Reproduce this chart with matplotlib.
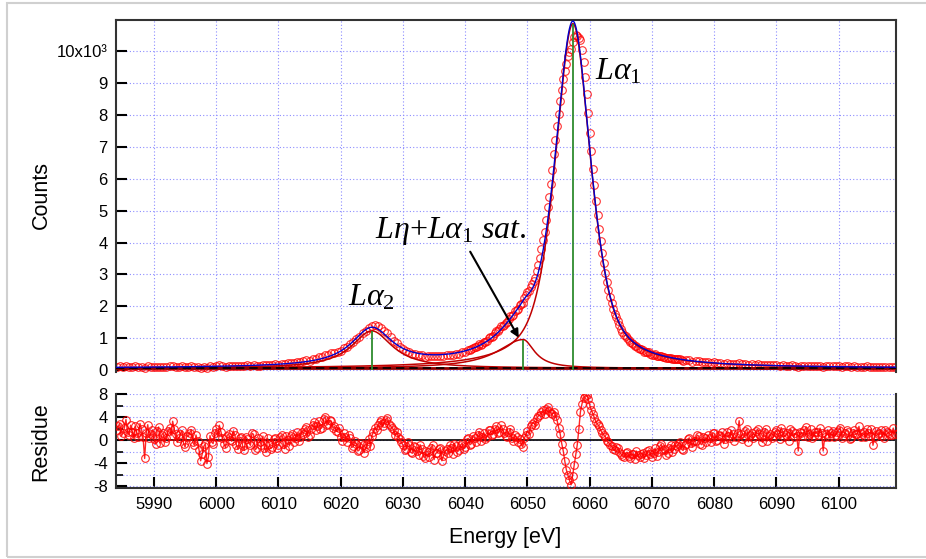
import numpy as np
import matplotlib
matplotlib.use("Agg")
import matplotlib.pyplot as plt
from matplotlib.patches import Rectangle
from matplotlib.ticker import MultipleLocator, FuncFormatter

plt.rcParams["font.family"] = ["Liberation Sans", "DejaVu Sans"]
plt.rcParams["mathtext.fontset"] = "custom"
plt.rcParams["mathtext.rm"] = "Liberation Serif"
plt.rcParams["mathtext.it"] = "Liberation Serif:italic"
plt.rcParams["axes.unicode_minus"] = False

# -------------------------
# Datos medidos (leidos de la figura)
# -------------------------

energy_low = np.arange(5984, 6040.5, 1.0)
counts_low = [
    114, 110, 108, 124, 121, 131, 107, 101, 112, 145,
    115, 102, 136, 117, 110, 134, 150, 137, 149, 152,
    152, 154, 154, 138, 158, 167, 183, 185, 234, 263,
    281, 307, 359, 413, 489, 559, 621, 729, 876, 1046,
    1228, 1380, 1383, 1235, 1034, 844, 665, 586, 522, 481,
    451, 440, 463, 470, 475, 523, 583,
]
energy_low_b = np.arange(5984.5, 6040, 1.0)
counts_low_b = [
    126, 134, 115, 107, 70, 115, 122, 121, 131, 122,
    131, 122, 108, 81, 78, 120, 160, 119, 136, 124,
    127, 144, 144, 178, 170, 193, 213, 216, 225, 262,
    315, 355, 411, 480, 536, 588, 701, 831, 987, 1165,
    1336, 1413, 1341, 1170, 929, 746, 603, 521, 471, 434,
    460, 440, 438, 497, 521, 576,
]

energy_mid = np.arange(6040.5, 6075.25, 0.5)
counts_mid = [
    649, 659, 722, 777, 795, 891, 932, 1033, 1091, 1220,
    1285, 1401, 1472, 1615, 1697, 1852, 1933, 2062, 2263, 2438,
    2601, 2805, 3110, 3520, 4069, 4715, 5430, 6262, 7192, 8020,
    8761, 9362, 9821, 10046, 10431, 10451, 10335, 9652, 8653, 7437,
    6312, 5296, 4437, 3678, 3058, 2527, 2106, 1764, 1536, 1295,
    1120, 1020, 881, 817, 762, 670, 638, 581, 563, 497,
    499, 456, 458, 416, 377, 385, 353, 345, 345, 302,
]
energy_mid_b = np.arange(6040.75, 6075, 0.5)
counts_mid_b = [
    637, 713, 723, 818, 840, 889, 1001, 1046, 1162, 1225,
    1374, 1434, 1523, 1702, 1741, 1904, 2031, 2114, 2348, 2469,
    2702, 2905, 3311, 3790, 4332, 5100, 5836, 6756, 7630, 8425,
    9102, 9587, 9961, 10279, 10481, 10407, 10021, 9163, 8056, 6860,
    5794, 4856, 4037, 3357, 2775, 2306, 1924, 1660, 1406, 1199,
    1075, 946, 859, 757, 710, 659, 591, 578, 527, 497,
    455, 463, 422, 382, 388, 352, 360, 345, 313,
]

energy_high = np.arange(6076, 6109.5, 1.0)
counts_high = [
    316, 283, 253, 263, 252, 233, 231, 214, 236, 202,
    190, 191, 178, 168, 171, 163, 139, 150, 147, 136,
    135, 146, 131, 135, 135, 126, 115, 121, 122, 113,
    121, 111, 114, 111,
]
energy_high_b = np.arange(6075.5, 6109, 1.0)
counts_high_b = [
    311, 276, 287, 262, 235, 229, 206, 209, 202, 187,
    173, 180, 169, 155, 160, 149, 153, 157, 112, 150,
    149, 140, 101, 125, 126, 118, 128, 128, 115, 126,
    96, 116, 120, 110,
]

energy_res = np.arange(5984, 6109.25, 0.5)
residue = [
    1.8, 2.9, 1.2, 3.6, 0.9, 1.5, 2.4, 0.6, 1.9, -3.2,
    2.7, 1.1, 0.2, 1.6, -0.5, 1.3, 0.4, 2.1, 3.3, 1.0,
    0.3, 1.7, -1.2, 0.6, 1.8, -0.9, -0.2, -3.6, -1.1, -4.1,
    0.8, -0.6, 1.9, 2.6, 0.4, -1.3, 1.1, -0.2, 0.9, -1.6,
    0.5, -1.8, 0.2, -0.9, 1.0, -1.4, -0.3, 0.7, -2.1, -0.6,
    -1.2, 0.3, -0.8, 0.9, -1.5, 0.1, 0.8, -0.4, 1.4, 0.6,
    1.1, 2.3, 0.9, 2.7, 1.8, 3.4, 2.2, 4.1, 2.9, 3.3,
    2.4, 1.5, 0.6, 1.2, -0.4, 0.3, -1.1, -0.6, -1.7, -0.9,
    -1.3, 0.2, 0.8, 2.1, 2.6, 3.5, 3.0, 3.9, 2.5, 1.8,
    1.4, 0.2, -0.9, -1.6, -0.8, -2.3, -1.2, -2.6, -1.5, -3.1,
    -2.0, -1.4, -3.4, -2.2, -1.3, -2.7, -1.6, -0.9, -2.4, -1.1,
    -1.8, -0.5, -1.2, 0.3, -0.6, 0.4, 0.9, -0.2, 1.3, 0.6,
    1.7, 1.1, 2.4, 1.5, 1.9, 0.8, 1.4, 0.3, 0.9, -0.4,
    -0.7, 0.4, 1.6, 2.5, 3.1, 3.8, 4.4, 5.2, 5.5, 5.0,
    4.6, 4.3, 2.2, -0.6, -3.7, -6.1, -7.8, -4.4, -0.8, 4.9,
    7.4, 7.9, 6.1, 4.6, 3.2, 2.4, 1.3, 0.6, -0.4, -1.1,
    -1.8, -1.3, -2.4, -2.9, -2.1, -3.2, -2.5, -1.9, -3.0, -2.2,
    -2.6, -1.7, -2.9, -1.4, -2.0, -0.7, -1.5, -2.3, -0.9, -1.6,
    -1.1, -0.3, -1.8, -0.6, 0.4, -1.2, -0.2, 0.7, -0.8, 0.3,
    0.9, -0.4, 1.2, 0.1, 0.8, -0.6, 1.5, 0.4, 1.1, 0.6,
    3.4, 0.2, 1.6, -0.3, 1.3, 0.8, 1.9, 0.5, 1.4, -0.2,
    1.1, 0.7, 1.8, 0.2, 1.5, 0.9, -0.1, 1.6, 1.2, -1.9,
    1.3, 1.7, 0.6, 1.9, 0.8, 1.4, 2.1, -1.9, 1.0, 0.5,
    1.6, 0.9, 1.8, 0.3, 1.2, 1.5, 0.4, 1.7, 1.1, 0.6,
    1.4, 1.9, 0.7, -0.9, 1.6, 1.2, 0.8, 1.8, 1.3, 0.9,
    1.1,
]
energy_res_b = np.arange(5984.25, 6109, 0.5)
residue_b = [
    2.4, 0.7, 2.2, 1.4, 2.6, 0.3, 1.3, 2.9, 0.5, 1.2,
    0.4, 1.8, -0.7, 2.3, 0.9, -0.3, 1.6, 0.8, 1.9, -0.4,
    1.1, -0.6, 0.8, 1.3, -0.4, 0.9, -1.8, -2.4, -0.6, -2.9,
    -0.3, 1.2, 0.6, 1.5, -0.7, 0.8, 0.1, 1.6, -0.9, 0.4,
    -1.1, 0.6, -0.5, 1.2, -1.7, 0.4, -0.9, -1.3, 0.3, -1.5,
    0.2, -1.3, 0.5, -0.6, 0.7, -1.0, 1.1, 0.3, -0.2, 1.5,
    2.0, 0.6, 1.9, 3.1, 2.5, 2.0, 3.7, 2.6, 3.5, 2.1,
    1.6, 2.2, -0.1, 0.5, 0.9, -1.3, -0.2, -1.9, -0.5, -2.2,
    -0.6, -1.0, 1.4, 1.7, 3.1, 2.4, 3.6, 2.8, 2.1, 0.9,
    0.6, -0.4, -1.8, -0.3, -2.1, -1.0, -1.9, -0.8, -2.7, -1.9,
    -2.9, -0.8, -2.3, -1.5, -3.6, -1.9, -2.2, -1.4, -0.6, -2.0,
    -0.9, -1.5, 0.2, -0.8, 0.8, -0.3, 1.5, 0.5, 0.2, 1.8,
    0.9, 2.0, 1.2, 2.6, 1.3, 0.6, 2.0, -0.2, 0.5, 0.2,
    -1.2, 0.9, 1.1, 2.9, 2.6, 4.2, 4.9, 4.6, 5.8, 4.8,
    4.9, 3.5, 1.1, -1.9, -5.2, -7.0, -6.2, -2.5, 1.9, 6.3,
    7.7, 7.2, 5.3, 3.9, 2.8, 1.7, 0.9, -0.1, -0.8, -1.6,
    -1.2, -2.0, -2.8, -2.3, -2.7, -2.5, -3.3, -2.6, -2.4, -3.1,
    -1.9, -2.4, -2.2, -2.7, -1.1, -1.8, -2.6, -1.3, -2.1, -0.8,
    -0.7, -1.6, -0.9, 0.2, -0.5, -0.1, 0.9, -0.6, 0.5, -0.3,
    0.4, 1.3, -0.2, 0.9, 1.4, 0.2, 0.8, 1.7, -0.1, 1.2,
    1.0, 0.6, 1.9, 0.9, 0.3, 1.6, 1.1, -0.4, 2.0, 0.7,
    0.3, 1.5, 1.0, 2.2, 0.6, 1.3, 1.9, 0.5, 0.8, 1.4,
    0.7, 2.3, 1.0, 0.4, 1.5, 0.9, 1.2, 0.6, 1.8, 1.3,
    0.5, 1.4, 2.2, 0.8, 1.7, 0.2, 1.3, 1.0, 2.4, 1.1,
    0.6, 1.3, 2.0, 0.5, 1.0, 1.7, 0.3, 1.5, 0.9, 2.1,
]

# -------------------------
# Parametros del ajuste (La2, Ln+La1 sat., La1)
# -------------------------

peak_center = [6025.0, 6049.3, 6057.3]
peak_height = [1170, 900, 10780]
peak_hw_left = [4.0, 5.0, 3.45]
peak_hw_right = [4.0, 2.2, 3.45]
peak_eta = [1.0, 1.0, 0.65]
baseline = 65

x_range = (5983.9, 6109.2)


def peak_shape(x, center, height, hw_left, hw_right, eta):
    hw = np.where(x < center, hw_left, hw_right)
    u = ((x - center) / hw) ** 2
    return height * (eta / (1 + u) + (1 - eta) * np.exp(-np.log(2) * u))


def merge_sorted(xs, ys):
    x = np.concatenate(xs)
    y = np.concatenate([np.asarray(v, dtype=float) for v in ys])
    order = np.argsort(x)
    return x[order], y[order]


energy, counts = merge_sorted(
    [energy_low, energy_low_b, energy_mid, energy_mid_b, energy_high, energy_high_b],
    [counts_low, counts_low_b, counts_mid, counts_mid_b, counts_high, counts_high_b],
)
e_res, res = merge_sorted([energy_res, energy_res_b], [residue, residue_b])

e_fine = np.linspace(x_range[0], x_range[1], 3000)
components = [
    peak_shape(e_fine, c, h, wl, wr, et)
    for c, h, wl, wr, et in zip(peak_center, peak_height, peak_hw_left, peak_hw_right, peak_eta)
]
total_fit = baseline + np.sum(components, axis=0)

# -------------------------
# Figura
# -------------------------

W, H = 926, 559
fig = plt.figure(figsize=(W / 100, H / 100), dpi=100)
ax1 = fig.add_axes([116 / W, (H - 372) / H, 780 / W, 352 / H])
ax2 = fig.add_axes([116 / W, (H - 487.7) / H, 780 / W, 93.4 / H])

grid_kw = dict(color="#8c8cff", linestyle=(0, (1, 2)), linewidth=0.8)
spine_color = "#333333"

# panel superior
ax1.plot(energy, counts, "o", mfc="none", mec="red", ms=5.5, mew=0.8, alpha=0.8, zorder=2)
for comp in components:
    ax1.plot(e_fine, baseline + comp, color="#c00000", lw=1.1, zorder=3)
ax1.axhline(baseline, color="#8b0000", lw=2, zorder=3)
ax1.axhline(baseline, color="black", lw=1.2, ls=(0, (5, 3)), zorder=4)
ax1.vlines(peak_center, 0, baseline + np.array(peak_height), color="#2e8b2e", lw=1.3, zorder=4)
ax1.plot(e_fine, total_fit, color="#0000cc", lw=1, zorder=5)

ax1.set_xlim(*x_range)
ax1.set_ylim(-50, 10960)
ax1.xaxis.set_major_locator(MultipleLocator(10))
ax1.yaxis.set_major_locator(MultipleLocator(1000))
ax1.yaxis.set_major_formatter(
    FuncFormatter(lambda v, p: "10x10\u00b3" if round(v) == 10000 else f"{v / 1000:.0f}")
)
ax1.tick_params(axis="x", length=0, labelbottom=False)
ax1.tick_params(axis="y", direction="in", length=8, width=1.5, labelsize=12, pad=6)
ax1.grid(True, **grid_kw)
ax1.set_axisbelow(True)
ax1.spines["bottom"].set_visible(False)
for s in ["left", "top", "right"]:
    ax1.spines[s].set_color(spine_color)
    ax1.spines[s].set_linewidth(1.5)

ax1.text(6060.9, 9100, r"$L\alpha_1$", fontsize=23)
ax1.text(6021.2, 2025, r"$L\alpha_2$", fontsize=23)
ax1.text(6025.5, 4141, r"$L\eta{+}L\alpha_1\ sat.$", fontsize=23)
ax1.annotate("", xy=(6048.6, 1023), xytext=(6040.8, 3713),
             arrowprops=dict(arrowstyle="-|>", color="black", lw=1.5, mutation_scale=12,
                             shrinkA=0, shrinkB=0))

# panel de residuos
ax2.plot(e_res, res, "-o", color="red", lw=1, ms=5.5, mfc="none", mew=0.8, alpha=0.85, zorder=3)
ax2.axhline(0, color="black", lw=1.2, zorder=2)
ax2.set_xlim(*x_range)
ax2.set_ylim(-8.3, 8)
ax2.xaxis.set_major_locator(MultipleLocator(10))
ax2.yaxis.set_major_locator(MultipleLocator(4))
ax2.yaxis.set_minor_locator(MultipleLocator(2))
ax2.tick_params(axis="x", direction="in", length=8, width=1.5, labelsize=12, pad=7)
ax2.tick_params(axis="y", which="major", direction="in", length=8, width=1.5, labelsize=12, pad=6)
ax2.tick_params(axis="y", which="minor", direction="in", length=5, width=1.2)
ax2.xaxis.grid(True, **grid_kw)
ax2.yaxis.grid(True, which="both", **grid_kw)
ax2.set_axisbelow(True)
ax2.spines["top"].set_visible(False)
for s in ["left", "bottom", "right"]:
    ax2.spines[s].set_color(spine_color)
    ax2.spines[s].set_linewidth(1.5)

fig.text(41 / W, 1 - 195 / H, "Counts", rotation=90, fontsize=15.5, ha="center", va="center")
fig.text(41 / W, 1 - 442 / H, "Residue", rotation=90, fontsize=15.5, ha="center", va="center")
fig.text(505 / W, 1 - 537 / H, "Energy [eV]", fontsize=15.5, ha="center", va="center")

fig.add_artist(Rectangle((7 / W, 2 / H), 1.0, (H - 5) / H, transform=fig.transFigure,
                         fill=False, edgecolor="#d0d0d0", lw=1.5, clip_on=False))

fig.savefig("out.png", dpi=100)
